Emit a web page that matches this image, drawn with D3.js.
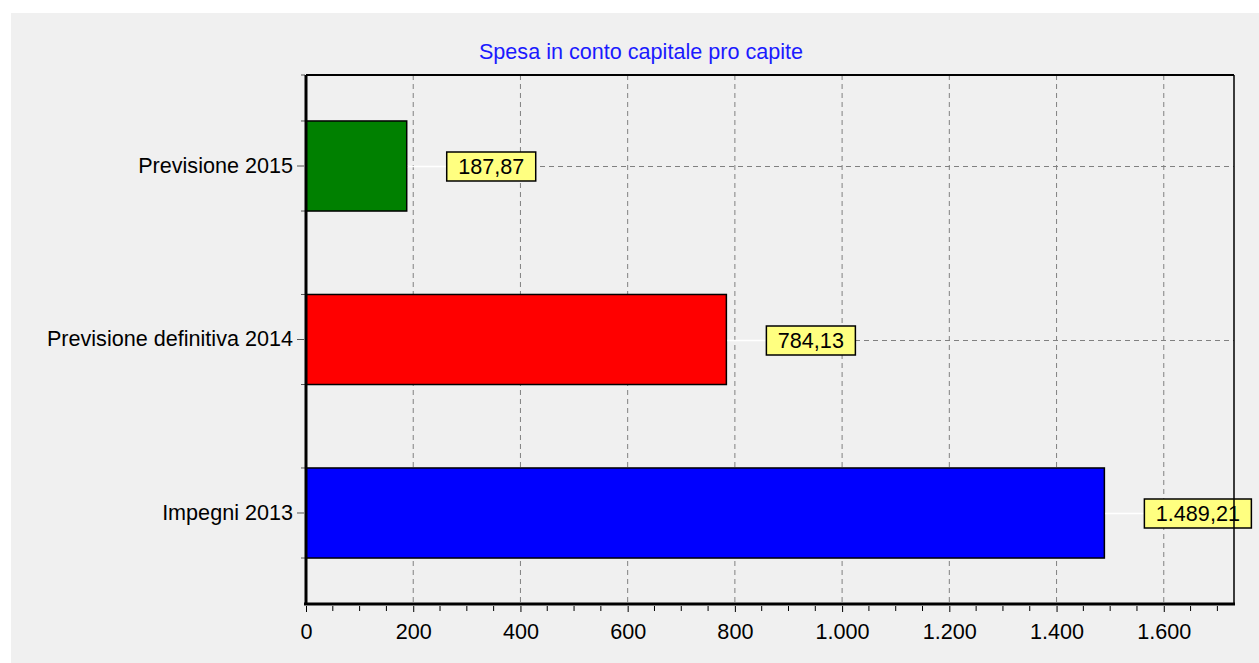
<!DOCTYPE html>
<html>
<head>
<meta charset="utf-8">
<script src="https://cdn.jsdelivr.net/npm/d3@7"></script>
<style>
body { margin:0; background:#fff; }
text { font-family: "Liberation Sans", Arial, sans-serif; }
</style>
</head>
<body>
<svg id="svg"></svg>
<script>
var categories = ["Previsione 2015", "Previsione definitiva 2014", "Impegni 2013"];
var values = [187.87, 784.13, 1489.21];
var labels = ["187,87", "784,13", "1.489,21"];
var colors = ["#008000", "#ff0000", "#0000ff"];
var xTicks = [0, 200, 400, 600, 800, 1000, 1200, 1400, 1600];
var title = "Spesa in conto capitale pro capite";

var W = 1259, H = 663;
var Marge = {top:75, right:25, bottom:59, left:306};
var plotW = W - Marge.left - Marge.right, plotH = H - Marge.top - Marge.bottom;
var fs = "21.6px";

var svg = d3.select("#svg").attr("width", W).attr("height", H);

svg.append("rect").attr("x",11).attr("y",13).attr("width",W-11).attr("height",H-13).attr("fill","#f0f0f0");

svg.append("text").attr("x", 641).attr("y", 59).attr("text-anchor","middle")
   .attr("fill","#1a1aff").style("font-size",fs).text(title);

var g = svg.append("g").attr("transform","translate("+Marge.left+","+Marge.top+")");

var x_scale = d3.scaleLinear().domain([0, 1731]).range([0, plotW]);
var y_scale = d3.scaleBand().domain(categories).range([0, plotH]).paddingInner(0.481).paddingOuter(0.265);

// vertical grid
g.selectAll(".vg").data(xTicks.slice(1)).enter().append("line")
  .attr("x1", function(d){return x_scale(d);}).attr("x2", function(d){return x_scale(d);})
  .attr("y1", 0).attr("y2", plotH)
  .attr("stroke","#808080").attr("stroke-dasharray","5,4");

// horizontal grid
g.selectAll(".hg").data(categories).enter().append("line")
  .attr("x1", 0).attr("x2", plotW)
  .attr("y1", function(d){return Math.round(y_scale(d)+y_scale.bandwidth()/2)+0.5;})
  .attr("y2", function(d){return Math.round(y_scale(d)+y_scale.bandwidth()/2)+0.5;})
  .attr("stroke","#808080").attr("stroke-dasharray","5,4");

// bars
g.selectAll(".bar").data(values).enter().append("rect")
  .attr("x", x_scale(0))
  .attr("y", function(d,i){return y_scale(categories[i]);})
  .attr("width", function(d){return x_scale(d)-x_scale(0);})
  .attr("height", y_scale.bandwidth())
  .attr("fill", function(d,i){return colors[i];})
  .attr("stroke","#000").attr("stroke-width",1.5);

// leader lines and value labels
var lab = g.selectAll(".lab").data(values).enter().append("g")
  .attr("transform", function(d,i){return "translate("+x_scale(d)+","+(Math.round(y_scale(categories[i])+y_scale.bandwidth()/2)+0.5)+")";});
lab.append("line").attr("x1",1).attr("x2",40).attr("y1",0).attr("y2",0).attr("stroke","#fff").attr("stroke-width",1.5);
lab.append("rect").attr("x",40).attr("y",-14.5)
  .attr("width", function(d,i){return labels[i].length>6 ? 107 : 89;}).attr("height",29)
  .attr("fill","#ffff80").attr("stroke","#000").attr("stroke-width",1.5);
lab.append("text")
  .attr("x", function(d,i){return 40 + (labels[i].length>6 ? 107 : 89)/2;}).attr("y",7.5)
  .attr("text-anchor","middle").style("font-size",fs).attr("fill","#000")
  .text(function(d,i){return labels[i];});

// frame top/right
g.append("line").attr("x1",0).attr("x2",plotW).attr("y1",0).attr("y2",0).attr("stroke","#000").attr("stroke-width",2);
g.append("line").attr("x1",plotW).attr("x2",plotW).attr("y1",0).attr("y2",plotH).attr("stroke","#000").attr("stroke-width",1.5);

// x axis
var xAxis = d3.axisBottom(x_scale).tickValues(xTicks).tickSize(6).tickPadding(12)
  .tickFormat(function(d){return d3.format(",")(d).replace(/,/g,".");});
var xg = g.append("g").attr("transform","translate(0,"+(plotH+2)+")").call(xAxis);
xg.select(".domain").remove();
xg.selectAll("text").style("font-size",fs).attr("fill","#000");
var minor = d3.range(50, 1731, 50).filter(function(d){return d%200!==0;});
g.selectAll(".mt").data(minor).enter().append("line")
  .attr("x1", function(d){return x_scale(d);}).attr("x2", function(d){return x_scale(d);})
  .attr("y1", plotH+2).attr("y2", plotH+7).attr("stroke","#000");
g.append("line").attr("x1",-2).attr("x2",plotW+1).attr("y1",plotH).attr("y2",plotH).attr("stroke","#000").attr("stroke-width",3);

// y axis
var yAxis = d3.axisLeft(y_scale).tickSize(7).tickPadding(4);
var yg = g.append("g").attr("transform","translate(-2,0)").call(yAxis);
yg.select(".domain").remove();
yg.selectAll("text").style("font-size",fs).attr("fill","#000");
yg.selectAll("line").attr("stroke","#555");
var edges = [0];
categories.forEach(function(c){ edges.push(y_scale(c)); edges.push(y_scale(c)+y_scale.bandwidth()); });
g.selectAll(".ymt").data(edges).enter().append("line")
  .attr("x1",-5).attr("x2",-1).attr("y1",function(d){return d;}).attr("y2",function(d){return d;}).attr("stroke","#555");
g.append("line").attr("x1",0).attr("x2",0).attr("y1",0).attr("y2",plotH).attr("stroke","#000").attr("stroke-width",3);
</script>
</body>
</html>
